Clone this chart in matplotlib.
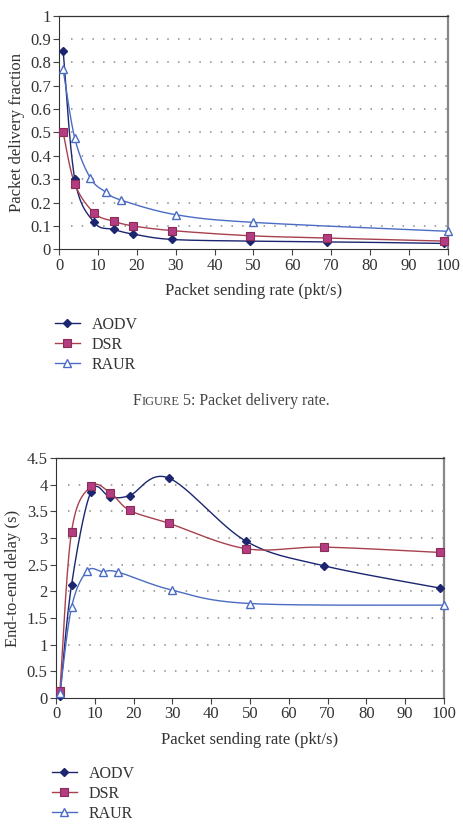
import numpy as np
import matplotlib
matplotlib.use("Agg")
import matplotlib.pyplot as plt
from matplotlib.lines import Line2D

# ---------------- data ----------------
series_names = ["AODV", "DSR", "RAUR"]

pdf_aodv_x = [1, 4, 9, 14, 19, 29, 49, 69, 99]
pdf_aodv_y = [0.85, 0.30, 0.115, 0.085, 0.065, 0.042, 0.035, 0.032, 0.025]
pdf_dsr_x = [1, 4, 9, 14, 19, 29, 49, 69, 99]
pdf_dsr_y = [0.50, 0.28, 0.155, 0.12, 0.10, 0.08, 0.058, 0.048, 0.035]
pdf_raur_x = [1, 4, 8, 12, 16, 30, 50, 100]
pdf_raur_y = [0.77, 0.475, 0.305, 0.245, 0.21, 0.148, 0.115, 0.077]

del_aodv_x = [1, 4, 9, 14, 19, 29, 49, 69, 99]
del_aodv_y = [0.03, 2.12, 3.87, 3.77, 3.80, 4.13, 2.94, 2.48, 2.06]
del_dsr_x = [1, 4, 9, 14, 19, 29, 49, 69, 99]
del_dsr_y = [0.12, 3.12, 3.97, 3.85, 3.52, 3.28, 2.80, 2.83, 2.73]
del_raur_x = [1, 4, 8, 12, 16, 30, 50, 100]
del_raur_y = [0.08, 1.70, 2.38, 2.37, 2.36, 2.02, 1.77, 1.74]

x_ticks = [0, 10, 20, 30, 40, 50, 60, 70, 80, 90, 100]
pdf_ticks = [0, 0.1, 0.2, 0.3, 0.4, 0.5, 0.6, 0.7, 0.8, 0.9, 1]
pdf_ticklabels = ["0", "0.1", "0.2", "0.3", "0.4", "0.5", "0.6", "0.7", "0.8", "0.9", "1"]
del_ticks = [0, 0.5, 1, 1.5, 2, 2.5, 3, 3.5, 4, 4.5]
del_ticklabels = ["0", "0.5", "1", "1.5", "2", "2.5", "3", "3.5", "4", "4.5"]

xlabel = "Packet sending rate (pkt/s)"
ylabel_top = "Packet delivery fraction"
ylabel_bot = "End-to-end delay (s)"
caption_parts = [("F", 11.5), ("IGURE", 9.0), (" 5: Packet delivery rate.", 11.5)]

# ---------------- style ----------------
FONT = "Liberation Serif"
TXT = "#333333"
FS = 12
c_aodv = "#1c2670"
c_dsr_line = "#a8414f"
c_dsr_face = "#b43c82"
c_dsr_edge = "#8a2c55"
c_raur = "#4a6cc4"

plt.rcParams["font.family"] = [FONT, "DejaVu Serif"]


def smooth(xs, ys, xr, yr, aspect, n=30):
    """Excel-like smoothed line (Catmull-Rom Bezier) in axes-normalised space."""
    xs = np.asarray(xs, float)
    ys = np.asarray(ys, float)
    px = (xs - xr[0]) / (xr[1] - xr[0])
    py = (ys - yr[0]) / (yr[1] - yr[0]) * aspect
    pts = np.column_stack([px, py])
    P = np.vstack([pts[0], pts, pts[-1]])
    out = []
    t = np.linspace(0, 1, n)[:, None]
    for i in range(1, len(P) - 2):
        p0, p1, p2, p3 = P[i - 1], P[i], P[i + 1], P[i + 2]
        c1 = p1 + (p2 - p0) / 6.0
        c2 = p2 - (p3 - p1) / 6.0
        b = ((1 - t) ** 3) * p1 + 3 * ((1 - t) ** 2) * t * c1 + 3 * (1 - t) * t ** 2 * c2 + t ** 3 * p2
        out.append(b)
    out = np.vstack(out)
    X = out[:, 0] * (xr[1] - xr[0]) + xr[0]
    Y = out[:, 1] / aspect * (yr[1] - yr[0]) + yr[0]
    return X, Y


fig = plt.figure(figsize=(4.63, 8.39), dpi=100)

ax1 = fig.add_axes([0.128, 0.7029, 0.839, 0.2784])
ax2 = fig.add_axes([0.121, 0.1684, 0.838, 0.2854])

styles = {
    "AODV": dict(color=c_aodv, marker="D", ms=4.3, mfc=c_aodv, mec=c_aodv, lw=1.0),
    "DSR": dict(color=c_dsr_line, marker="s", ms=5.5, mfc=c_dsr_face, mec=c_dsr_edge, mew=0.8, lw=1.0),
    "RAUR": dict(color=c_raur, marker="^", ms=6.2, mfc="white", mec=c_raur, mew=1.0, lw=1.0),
}


def draw(ax, data, yr, ticks, ticklabels, ylab, aspect):
    xr = (0, 100)
    for name, (xs, ys) in zip(series_names, data):
        st = styles[name]
        X, Y = smooth(xs, ys, xr, yr, aspect)
        ax.plot(X, Y, color=st["color"], lw=st["lw"], zorder=3, clip_on=False)
        ax.plot(xs, ys, linestyle="none", marker=st["marker"], ms=st["ms"],
                mfc=st["mfc"], mec=st["mec"], mew=st.get("mew", 1.0), zorder=4, clip_on=False)
    ax.set_xlim(*xr)
    ax.set_ylim(*yr)
    ax.set_xticks(x_ticks)
    ax.set_xticklabels([str(v) for v in x_ticks])
    ax.set_yticks(ticks)
    ax.set_yticklabels(ticklabels)
    for t in ticks[1:]:
        ax.axhline(t, xmin=0.03, color="#8a8a8a", lw=1.1, ls=(0, (1, 6)), zorder=1)
    ax.tick_params(axis="both", direction="out", length=4, width=0.8, color="#444444",
                   labelsize=FS, labelcolor=TXT, pad=2)
    ax.spines["left"].set_color("#333333")
    ax.spines["bottom"].set_color("#333333")
    ax.spines["top"].set_color("#333333")
    ax.spines["top"].set_linewidth(0.9)
    ax.spines["right"].set_color("#888888")
    ax.spines["right"].set_linewidth(1.6)
    ax.set_xlabel(xlabel, fontsize=FS, color=TXT, labelpad=7)
    ax.set_ylabel(ylab, fontsize=FS, color=TXT, labelpad=4)


draw(ax1, [(pdf_aodv_x, pdf_aodv_y), (pdf_dsr_x, pdf_dsr_y), (pdf_raur_x, pdf_raur_y)],
     (0, 1), pdf_ticks, pdf_ticklabels, ylabel_top, 234 / 389)
draw(ax2, [(del_aodv_x, del_aodv_y), (del_dsr_x, del_dsr_y), (del_raur_x, del_raur_y)],
     (0, 4.5), del_ticks, del_ticklabels, ylabel_bot, 239 / 388)


def legend_handles():
    hs = []
    for name in series_names:
        st = styles[name]
        hs.append(Line2D([0], [0], color=st["color"], lw=st["lw"], marker=st["marker"],
                         ms=st["ms"], mfc=st["mfc"], mec=st["mec"], mew=st.get("mew", 1.0)))
    return hs


for (lx, ly) in [(55 / 463, 1 - 317 / 839), (52 / 463, 1 - 766 / 839)]:
    leg = fig.legend(legend_handles(), series_names, loc="upper left",
                     bbox_to_anchor=(lx, ly), frameon=False, fontsize=11.5,
                     handlelength=1.55, handletextpad=0.75, labelspacing=0.25,
                     borderpad=0, borderaxespad=0, numpoints=1)
    for t in leg.get_texts():
        t.set_color(TXT)

# caption with small caps "FIGURE"
fig.canvas.draw()
renderer = fig.canvas.get_renderer()
texts = []
for s, fs in caption_parts:
    t = fig.text(0, 0.5, s, fontsize=fs, color="#444444", ha="left", va="baseline")
    texts.append(t)
widths = []
for t in texts:
    bb = t.get_window_extent(renderer=renderer)
    widths.append(bb.width / fig.bbox.width)
total = sum(widths)
x = 231 / 463 - total / 2
for t, w in zip(texts, widths):
    t.set_x(x)
    t.set_y(1 - 405 / 839)
    x += w

fig.savefig("out.png", dpi=100)
